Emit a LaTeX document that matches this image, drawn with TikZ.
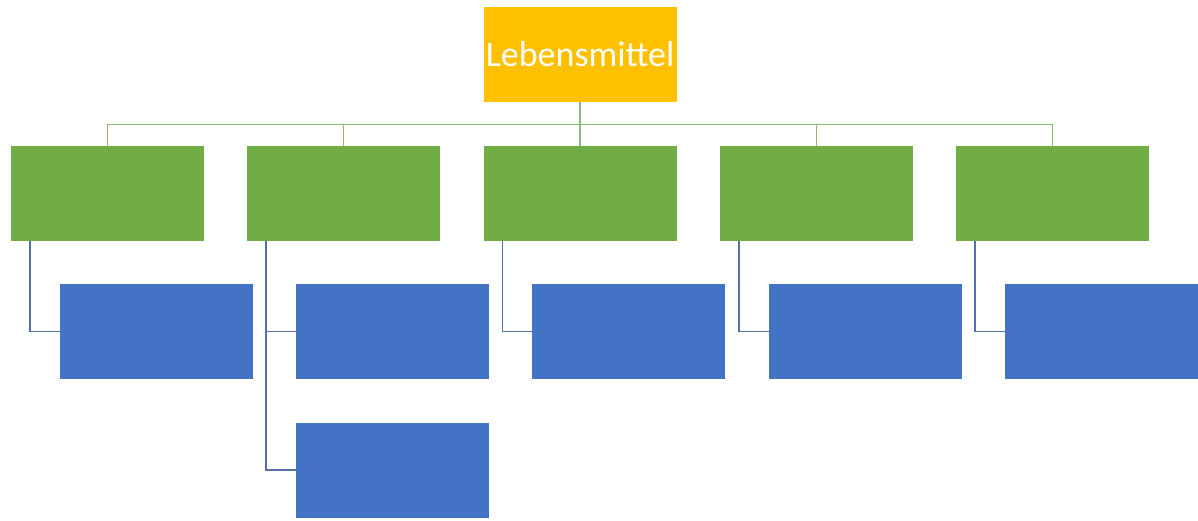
\documentclass[tikz,border=0pt]{standalone}
\usepackage{fontspec}
\setmainfont{Carlito}
\definecolor{cOrange}{HTML}{FFC000}
\definecolor{cGreen}{HTML}{70AD47}
\definecolor{cBlue}{HTML}{4472C4}
\definecolor{lGreen}{HTML}{8DB870}
\definecolor{lBlue}{HTML}{5470A8}
\begin{document}
\begin{tikzpicture}[x=1pt,y=-1pt,
  box/.style={inner sep=0pt, outer sep=0pt, minimum width=193pt, minimum height=95pt},
  topbox/.style={box, fill=cOrange, text=white, font=\fontsize{36}{36}\selectfont},
  greenbox/.style={box, fill=cGreen},
  bluebox/.style={box, fill=cBlue},
  gline/.style={draw=lGreen, line width=1.3pt},
  bline/.style={draw=lBlue, line width=1.3pt}]
\useasboundingbox (0,0) rectangle (1198,520);
\fill[white] (0,0) rectangle (1198,520);
% top
\node[topbox] (top) at (580,54) {Lebensmittel};
% green
\node[greenbox] (g1) at (107.5,193) {};
\node[greenbox] (g2) at (343.5,193) {};
\node[greenbox] (g3) at (580,193) {};
\node[greenbox] (g4) at (816.5,193) {};
\node[greenbox] (g5) at (1052.5,193) {};
% blue
\node[bluebox] (b1) at (156,331.5) {};
\node[bluebox] (b2) at (392,331.5) {};
\node[bluebox] (b2b) at (392,470) {};
\node[bluebox] (b3) at (628,331.5) {};
\node[bluebox] (b4) at (865,331.5) {};
\node[bluebox] (b5) at (1101,331.5) {};
% green connectors
\coordinate (hub) at (580,124.5);
\draw[gline] (top.south) -- (hub);
\foreach \g in {g1,g2,g3,g4,g5}{
  \draw[gline] (hub) -| (\g.north);
}
% blue connectors
\draw[bline] ([xshift=19pt]g1.south west) |- (b1.west);
\draw[bline] ([xshift=19pt]g2.south west) |- (b2.west);
\draw[bline] ([xshift=19pt]g2.south west) |- (b2b.west);
\draw[bline] ([xshift=19pt]g3.south west) |- (b3.west);
\draw[bline] ([xshift=19pt]g4.south west) |- (b4.west);
\draw[bline] ([xshift=19pt]g5.south west) |- (b5.west);
\end{tikzpicture}
\end{document}
